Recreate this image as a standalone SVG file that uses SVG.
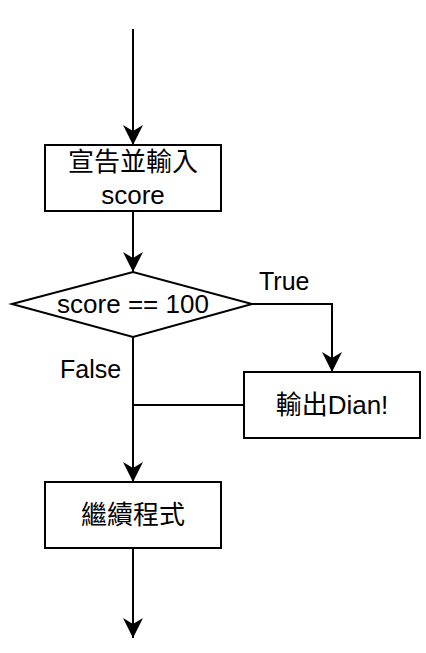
<svg xmlns="http://www.w3.org/2000/svg" width="426" height="653" viewBox="0 0 426 653">
<style>
.box{fill:#fff;stroke:#000;stroke-width:2}
.ln{fill:none;stroke:#000;stroke-width:2}
.t{font-family:"Liberation Sans","Noto Sans CJK TC",sans-serif;font-size:26px;fill:#000;text-anchor:middle}
.lbl{font-family:"Liberation Sans",sans-serif;font-size:25px;fill:#000}
</style>
<defs>
<marker id="arr" viewBox="0 0 20 20" refX="20" refY="10" markerWidth="20" markerHeight="20" markerUnits="userSpaceOnUse" orient="auto">
<path d="M0,0 L20,10 L0,20 L6,10 Z" fill="#000"/>
</marker>
</defs>
<g id="connectors">
<path class="ln" d="M133,29 V145" marker-end="url(#arr)"/>
<path class="ln" d="M133,211 V272" marker-end="url(#arr)"/>
<path class="ln" d="M252,304 H332 V372" marker-end="url(#arr)"/>
<path class="ln" d="M244,405 H133"/>
<path class="ln" d="M133,337 V482" marker-end="url(#arr)"/>
<path class="ln" d="M133,548 V638" marker-end="url(#arr)"/>
<text class="lbl" x="259" y="290">True</text>
<text class="lbl" x="60" y="378">False</text>
</g>
<g id="declare">
<rect class="box" x="45" y="145" width="176" height="66"/>
<text class="t" x="133" y="171">宣告並輸入</text>
<text class="t" x="133" y="204">score</text>
</g>
<g id="decision">
<polygon class="box" points="12,304 133,272 252,304 133,337"/>
<text class="t" x="133" y="313">score == 100</text>
</g>
<g id="output">
<rect class="box" x="244" y="372" width="176" height="66"/>
<text class="t" x="332" y="414">輸出Dian!</text>
</g>
<g id="continue">
<rect class="box" x="45" y="482" width="176" height="66"/>
<text class="t" x="133" y="524">繼續程式</text>
</g>
</svg>
